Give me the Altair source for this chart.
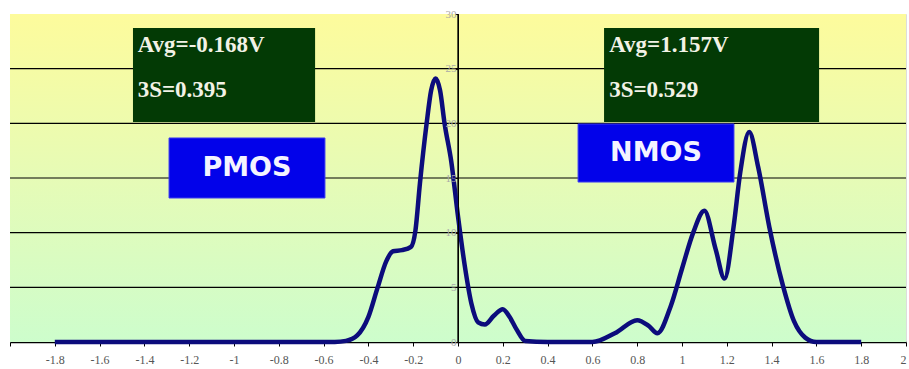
import altair as alt
import pandas as pd

# Threshold-voltage distribution (V) vs. count
volts = [-1.8, -1.6, -1.4, -1.2, -1.0, -0.8, -0.6, -0.55, -0.5, -0.45, -0.4, -0.36,
         -0.32, -0.29, -0.25, -0.21, -0.19, -0.17, -0.14, -0.12, -0.10, -0.08, -0.06,
         -0.03, 0.0, 0.03, 0.06, 0.09, 0.12, 0.16, 0.2, 0.23, 0.26, 0.3, 0.4, 0.5, 0.6,
         0.7, 0.8, 0.85, 0.89, 0.95, 1.0, 1.05, 1.1, 1.15, 1.19, 1.23, 1.26, 1.30, 1.34,
         1.39, 1.45, 1.5, 1.55, 1.6, 1.7, 1.8]
counts = [0, 0, 0, 0, 0, 0, 0, 0, 0.1, 0.6, 2.3, 4.9,
          7.4, 8.3, 8.4, 8.7, 10.2, 14.5, 20.0, 23.0, 24.1, 23.0, 20.0,
          16.5, 11.5, 7.0, 3.5, 1.8, 1.6, 2.4, 3.0, 2.3, 1.2, 0.1, 0, 0, 0,
          0.8, 2.0, 1.5, 0.8, 3.3, 6.7, 10.0, 12.0, 8.5, 5.8, 10.5, 15.5, 19.2, 16.0,
          10.5, 5.2, 1.9, 0.4, 0, 0, 0]

x_ticks = [-2.0, -1.8, -1.6, -1.4, -1.2, -1.0, -0.8, -0.6, -0.4, -0.2, 0.0,
           0.2, 0.4, 0.6, 0.8, 1.0, 1.2, 1.4, 1.6, 1.8, 2.0]
y_ticks = [0, 5, 10, 15, 20, 25, 30]
grid_levels = [5, 10, 15, 20, 25]

# Annotation boxes (data units)
stat_boxes = pd.DataFrame({
    "x": [-1.451, 0.652], "x2": [-0.638, 1.612], "y": [28.72, 28.72], "y2": [20.12, 20.12]
})
stat_text = pd.DataFrame({
    "x": [-1.43, -1.43, 0.675, 0.675],
    "y": [26.5, 22.4, 26.5, 22.4],
    "label": ["Avg=-0.168V", "3S=0.395", "Avg=1.157V", "3S=0.529"],
})
type_boxes = pd.DataFrame({
    "x": [-1.290, 0.536], "x2": [-0.594, 1.232], "y": [18.66, 19.94], "y2": [13.17, 14.63],
    "cx": [-0.942, 0.884], "cy": [15.92, 17.29], "label": ["PMOS", "NMOS"],
})

curve = pd.DataFrame({"v": volts, "n": counts})

xs = alt.Scale(domain=[-2, 2], nice=False, zero=False)
ys = alt.Scale(domain=[0, 30], nice=False)

gradient = alt.LinearGradient(
    gradient="linear", x1=0, y1=0, x2=0, y2=1,
    stops=[alt.GradientStop(color="#fdfb9c", offset=0),
           alt.GradientStop(color="#e6fbb6", offset=0.5),
           alt.GradientStop(color="#cdfdcc", offset=1)],
)

bg = alt.Chart(pd.DataFrame({"a": [-2], "b": [2], "c": [0], "d": [30]})).mark_rect(
    fill=gradient
).encode(
    x=alt.X("a:Q", scale=xs, title=None,
            axis=alt.Axis(values=x_ticks, grid=False, domainColor="black", domainWidth=1.5,
                          tickColor="black", tickSize=4, labelPadding=8,
                          labelFont="Liberation Serif", labelFontSize=12, labelColor="#555555",
                          labelExpr="datum.value <= -1.99 ? '' : '' + round(datum.value*10)/10")),
    x2="b:Q",
    y=alt.Y("c:Q", scale=ys, title=None,
            axis=alt.Axis(values=y_ticks, grid=False, offset=-448, domainColor="black",
                          tickColor="black", tickSize=3, labelPadding=-1, zindex=1,
                          labelFont="Liberation Serif", labelFontSize=11, labelColor="#a8a8a8")),
    y2="d:Q",
)

grid = alt.Chart(pd.DataFrame({"g": grid_levels})).mark_rule(
    color="black", strokeWidth=1.2
).encode(y=alt.Y("g:Q", scale=ys))

zero_axis = alt.Chart(pd.DataFrame({"z": [0]})).mark_rule(
    color="black", strokeWidth=1.3
).encode(x=alt.X("z:Q", scale=xs))

line = alt.Chart(curve).mark_line(
    color="#0c0c7c", strokeWidth=4.5, interpolate="monotone"
).encode(x=alt.X("v:Q", scale=xs), y=alt.Y("n:Q", scale=ys))

sbox = alt.Chart(stat_boxes).mark_rect(fill="#033a05").encode(
    x=alt.X("x:Q", scale=xs), x2="x2:Q", y=alt.Y("y:Q", scale=ys), y2="y2:Q"
)
stext = alt.Chart(stat_text).mark_text(
    align="left", baseline="alphabetic", font="Liberation Serif", fontWeight="bold",
    fontSize=23, color="#f2f2e6"
).encode(x=alt.X("x:Q", scale=xs), y=alt.Y("y:Q", scale=ys), text="label:N")

tbox = alt.Chart(type_boxes).mark_rect(
    fill="#0202ea", stroke="#3c3cf0", strokeWidth=1
).encode(x=alt.X("x:Q", scale=xs), x2="x2:Q", y=alt.Y("y:Q", scale=ys), y2="y2:Q")
ttext = alt.Chart(type_boxes).mark_text(
    align="center", baseline="middle", font="DejaVu Sans", fontWeight="bold",
    fontSize=27, color="#f4f4ff"
).encode(x=alt.X("cx:Q", scale=xs), y=alt.Y("cy:Q", scale=ys), text="label:N")

chart = alt.layer(bg, grid, zero_axis, sbox, stext, tbox, ttext, line).properties(
    width=896, height=328,
    autosize=alt.AutoSizeParams(type="none"),
    padding={"left": 10, "top": 14, "right": 3, "bottom": 27},
).configure_view(stroke="#8a8a8a", strokeWidth=2.5).configure(background="white")

chart.save("out.html", embed_options={"renderer": "svg", "actions": False})
